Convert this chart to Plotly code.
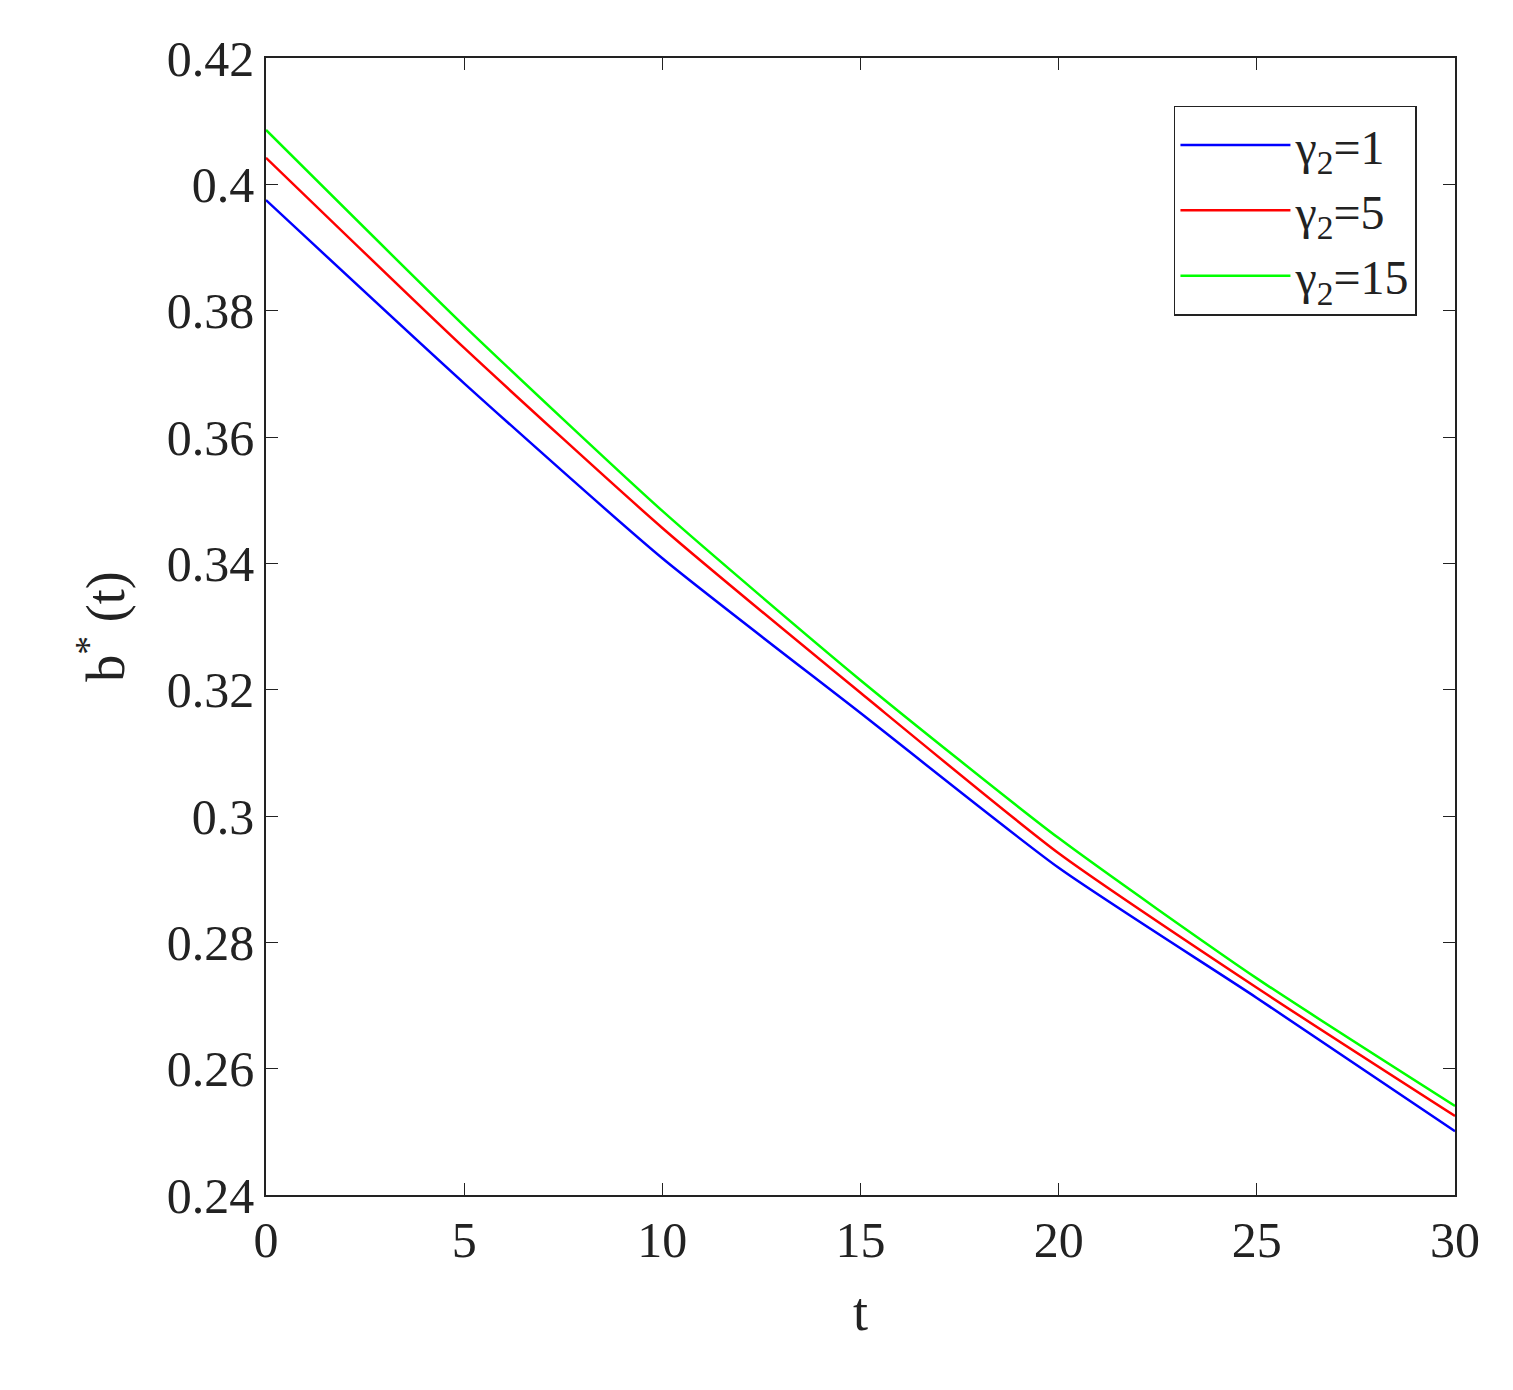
import plotly.graph_objects as go

t = [0, 5, 10, 15, 20, 25, 30]
b1 = [0.3975, 0.3685, 0.3408, 0.3163, 0.2918, 0.2712, 0.2501]
b5 = [0.4042, 0.3741, 0.3456, 0.3195, 0.2941, 0.2728, 0.2525]
b15 = [0.4086, 0.3776, 0.3483, 0.3215, 0.2965, 0.2743, 0.2541]
names = ["γ<sub>2</sub>=1", "γ<sub>2</sub>=5", "γ<sub>2</sub>=15"]
colors = ["#0000ff", "#ff0000", "#00ff00"]

fig = go.Figure()
for y, n, c in zip([b1, b5, b15], names, colors):
    fig.add_trace(go.Scatter(x=t, y=y, name=n, mode="lines",
                             line=dict(color=c, width=2.5, shape="spline", smoothing=0.6)))

ax = dict(showgrid=False, zeroline=False, showline=True, mirror="ticks", linecolor="#222",
          linewidth=1.5, ticks="inside", ticklen=12, tickcolor="#222",
          tickfont=dict(size=50, family="Liberation Serif", color="#222"))
fig.update_layout(
    width=1513, height=1390, paper_bgcolor="white", plot_bgcolor="white",
    margin=dict(l=258, r=66, t=50, b=203),
    font=dict(family="Liberation Serif", color="#222"),
    xaxis=dict(ax, range=[0, 30], dtick=5, title=dict(text="t", font=dict(size=54), standoff=25)),
    yaxis=dict(ax, range=[0.24, 0.42], dtick=0.02, tickformat="~g",
               title=dict(text="b<sup>*</sup> (t)", font=dict(size=54), standoff=25)),
    legend=dict(x=0.968, y=0.958, xanchor="right", yanchor="top", bordercolor="#222",
                borderwidth=1.5, bgcolor="white", font=dict(size=48, family="Liberation Serif"),
                itemwidth=110, tracegroupgap=20),
)
fig.write_html("out.html")
